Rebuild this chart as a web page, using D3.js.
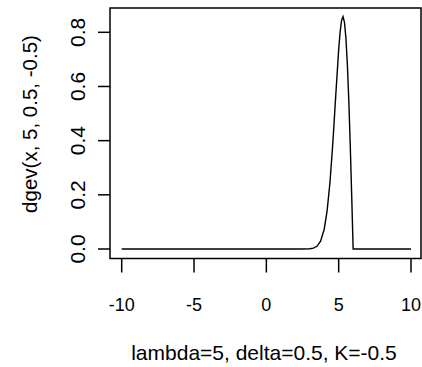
<!DOCTYPE html>
<html>
<head>
<meta charset="utf-8">
<script src="https://cdn.jsdelivr.net/npm/d3@7"></script>
<style>
  html, body { margin: 0; padding: 0; background: #fff; }
  svg { display: block; }
  text { font-family: Arial, "Liberation Sans", sans-serif; fill: #000; }
</style>
</head>
<body>
<div id="chart"></div>
<script>
// curve points
const xValues = [-10, 2.5, 3.0, 3.25, 3.5, 3.75, 4.0, 4.2, 4.4, 4.6, 4.8, 5.0, 5.1, 5.2, 5.3, 5.4, 5.5, 5.6, 5.7, 5.8, 5.9, 6.0, 10];
const yValues = [0, 0, 0.0007, 0.003, 0.010, 0.029, 0.073, 0.141, 0.247, 0.394, 0.569, 0.736, 0.801, 0.844, 0.858, 0.837, 0.779, 0.682, 0.548, 0.384, 0.198, 0, 0];

const xTicks = [-10, -5, 0, 5, 10];
const yTicks = [0.0, 0.2, 0.4, 0.6, 0.8];
const xTitle = 'lambda=5, delta=0.5, K=-0.5';
const yTitle = 'dgev(x, 5, 0.5, -0.5)';

const width = 422, height = 367;
const box = { left: 110, right: 421, top: 8, bottom: 258.5 };

const svg = d3.select('#chart').append('svg')
  .attr('width', width)
  .attr('height', height);

const x = d3.scaleLinear().domain([-10, 10]).range([121.7, 411]);
const y = d3.scaleLinear().domain([0, 0.8]).range([249, 32.3]);

const puntos = xValues.map((v, i) => ({ x: v, y: yValues[i] }));

// curva
const linea = d3.line()
  .x(d => x(d.x))
  .y(d => y(d.y));

svg.append('path')
  .datum(puntos)
  .attr('d', linea)
  .attr('fill', 'none')
  .attr('stroke', '#000')
  .attr('stroke-width', 1.4)
  .attr('stroke-linejoin', 'miter');

// marco
svg.append('rect')
  .attr('x', box.left)
  .attr('y', box.top)
  .attr('width', box.right - box.left)
  .attr('height', box.bottom - box.top)
  .attr('fill', 'none')
  .attr('stroke', '#000')
  .attr('stroke-width', 1.5);

// eje x
const gx = svg.append('g');
gx.selectAll('line')
  .data(xTicks)
  .enter().append('line')
  .attr('x1', d => x(d)).attr('x2', d => x(d))
  .attr('y1', box.bottom).attr('y2', box.bottom + 14)
  .attr('stroke', '#000')
  .attr('stroke-width', 1.5);
gx.selectAll('text')
  .data(xTicks)
  .enter().append('text')
  .attr('x', d => x(d))
  .attr('y', 310.5)
  .attr('text-anchor', 'middle')
  .style('font-size', '18px')
  .text(d => d);

// eje y
const gy = svg.append('g');
gy.selectAll('line')
  .data(yTicks)
  .enter().append('line')
  .attr('x1', box.left - 12).attr('x2', box.left)
  .attr('y1', d => y(d)).attr('y2', d => y(d))
  .attr('stroke', '#000')
  .attr('stroke-width', 1.5);
gy.selectAll('text')
  .data(yTicks)
  .enter().append('text')
  .attr('transform', d => `translate(85,${y(d)}) rotate(-90)`)
  .attr('text-anchor', 'middle')
  .style('font-size', '21px')
  .text(d => d.toFixed(1));

// titulos
svg.append('text')
  .attr('x', 264)
  .attr('y', 360)
  .attr('text-anchor', 'middle')
  .style('font-size', '21px')
  .text(xTitle);

svg.append('text')
  .attr('transform', 'translate(37,124) rotate(-90)')
  .attr('text-anchor', 'middle')
  .style('font-size', '20.5px')
  .text(yTitle);
</script>
</body>
</html>
